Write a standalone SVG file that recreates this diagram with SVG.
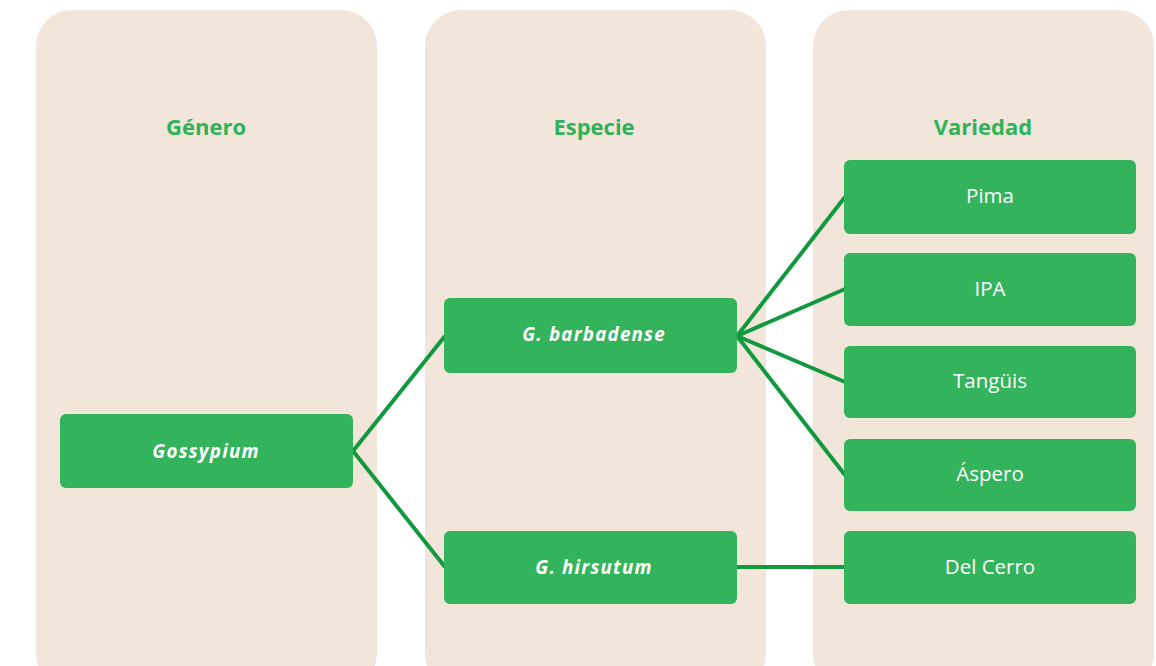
<svg xmlns="http://www.w3.org/2000/svg" width="1156" height="666" viewBox="0 0 1156 666">
<style>
.col{fill:#f2e6db}
.hdr{font-family:"Open Sans","Noto Sans",sans-serif;font-weight:700;font-size:22px;fill:#2fb35a;text-anchor:middle}
.box{fill:#33b35c}
.it{font-family:"Open Sans","Noto Sans",sans-serif;font-weight:700;font-style:italic;font-size:18.8px;fill:#fff;text-anchor:middle;letter-spacing:1.2px}
.rg{font-family:"Open Sans","Noto Sans",sans-serif;font-size:20.5px;fill:#fff;text-anchor:middle}
.ln{stroke:#12993f;stroke-width:4;fill:none}
</style>
<rect width="1156" height="666" fill="#fff"/>
<g id="col-genero"><rect class="col" x="36" y="10" width="341" height="680" rx="36"/><text class="hdr" x="206" y="135">Género</text></g>
<g id="col-especie"><rect class="col" x="425" y="10" width="341" height="680" rx="36"/><text class="hdr" x="594" y="135">Especie</text></g>
<g id="col-variedad"><rect class="col" x="813" y="10" width="341" height="680" rx="36"/><text class="hdr" x="983" y="135">Variedad</text></g>
<g id="connectors">
<line class="ln" x1="353" y1="451" x2="445" y2="336"/>
<line class="ln" x1="353" y1="451" x2="445" y2="567"/>
<line class="ln" x1="737" y1="336" x2="845" y2="197"/>
<line class="ln" x1="737" y1="336" x2="845" y2="289"/>
<line class="ln" x1="737" y1="336" x2="845" y2="382"/>
<line class="ln" x1="737" y1="336" x2="845" y2="475"/>
<line class="ln" x1="737" y1="567" x2="845" y2="567"/>
</g>
<g id="gossypium"><rect class="box" x="60" y="414" width="293" height="74" rx="6"/><text class="it" x="206" y="458">Gossypium</text></g>
<g id="barbadense"><rect class="box" x="444" y="298" width="293" height="75" rx="6"/><text class="it" x="594" y="341">G. barbadense</text></g>
<g id="hirsutum"><rect class="box" x="444" y="531" width="293" height="73" rx="6"/><text class="it" x="594" y="574">G. hirsutum</text></g>
<g id="pima"><rect class="box" x="844" y="160" width="292" height="74" rx="6"/><text class="rg" x="990" y="203">Pima</text></g>
<g id="ipa"><rect class="box" x="844" y="253" width="292" height="73" rx="6"/><text class="rg" x="990" y="296">IPA</text></g>
<g id="tanguis"><rect class="box" x="844" y="346" width="292" height="72" rx="6"/><text class="rg" x="990" y="388">Tangüis</text></g>
<g id="aspero"><rect class="box" x="844" y="439" width="292" height="72" rx="6"/><text class="rg" x="990" y="481">Áspero</text></g>
<g id="delcerro"><rect class="box" x="844" y="531" width="292" height="73" rx="6"/><text class="rg" x="990" y="574">Del Cerro</text></g>
</svg>
